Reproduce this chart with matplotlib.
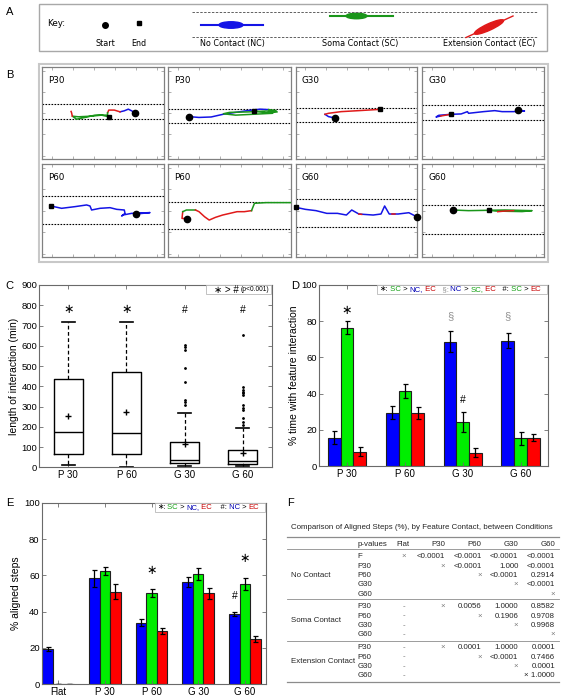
import matplotlib.pyplot as plt
from matplotlib.patches import Rectangle, Ellipse
import numpy as np

plt.rcParams['font.family'] = ['Liberation Sans', 'DejaVu Sans']

W, H = 563, 699

# ---------------- data ----------------
# B: example tracks (x, y in % of the frame), one list of (contact, xs, ys) segments per panel
b_titles = ['P30', 'P30', 'G30', 'G30', 'P60', 'P60', 'G60', 'G60']
b_dash = [[59.6, 43.3], [55.1, 39.1], [55.8, 40.2], [59.1, 42.4],
          [65.7, 35.4], [59.7, 29.9], [62.2, 32.4], [55.8, 25.5]]
b_start = [(76, 50.5), (16.9, 46.4), (32.5, 44.9), (78.8, 53.6),
           (76.8, 46.4), (15.4, 41.4), (100, 43.5), (25.2, 50.7)]
b_end = [(54.6, 46.2), (69.8, 52.5), (69.9, 54.3), (23.3, 48.9),
         (7.1, 55), None, (0, 53.6), (55.2, 50.4)]

track_p30a = [
    ('NC', [76, 73.2, 70.5, 67.2, 63.7], [50.5, 52.7, 54.5, 52.7, 51.6]),
    ('EC', [63.7, 59, 54.5, 53.5], [51.6, 53.5, 53.5, 50.5]),
    ('SC', [53.5, 53.5, 43.2, 35, 28.1, 24.6, 29.5, 40.4, 48.6, 54.6],
           [50.5, 48, 48, 45.5, 43.6, 46.9, 46.2, 46.9, 48, 46.2]),
    ('EC', [24.6, 24, 23.6], [46.9, 50.5, 52]),
]
track_p30b = [
    ('NC', [16.9, 25, 35, 45, 55, 65, 75, 82], [46.4, 45.5, 46, 49, 51, 53, 54.5, 54]),
    ('SC', [82, 88, 85, 70, 55, 45, 50, 65, 80, 89, 80, 69.8],
           [54, 53, 50, 49, 48, 49.5, 51, 51.5, 52.5, 51.5, 50.5, 52.5]),
]
track_g30a = [
    ('NC', [32.5, 27.1, 24.2], [44.9, 46.4, 48.9]),
    ('EC', [24.2, 27.1, 37.5, 52.2, 61.1, 69.9], [48.9, 50, 51.8, 52.9, 53.6, 54.3]),
]
track_g30b = [
    ('NC', [78.8, 84, 74.8, 65.6, 59.5, 50.3, 38, 37.1, 31.9, 23.3, 13.5, 11.3, 15],
           [53.6, 52.5, 51.8, 51.8, 52.9, 51.8, 50, 51.8, 49.3, 48.9, 47.8, 46, 47]),
    ('EC', [15, 23.3], [47, 48.9]),
]
track_p60a = [
    ('NC', [76.8, 88.3, 73.2, 66.4, 65, 67.8, 67.2, 61, 55.5, 47.3, 40.4, 39.1, 36.3, 26.8, 15.8, 7.1],
           [46.4, 47.9, 47.1, 45.4, 44.3, 47.1, 50.7, 51.4, 53.2, 52.5, 50.7, 55, 56.1, 54.3, 52.5, 55]),
]
track_p60b = [
    ('EC', [15.4, 11.2, 11.8], [41.4, 41.7, 48.9]),
    ('SC', [11.8, 14.8, 22.2], [48.9, 50.7, 50.7]),
    ('EC', [22.2, 25.1, 29.6, 33.4, 38.5, 44.4, 50.3, 56.2, 62.1, 68],
           [50.7, 48.9, 43.5, 39.9, 42.8, 45.3, 47.1, 48.9, 48.9, 50]),
    ('SC', [68, 70.4, 79.9, 100], [50, 57.9, 58.6, 58.6]),
]
track_g60a = [
    ('NC', [100, 93.5, 84.7, 77.3, 73.5, 70.5, 64, 52.2, 46.3, 41.9, 34.5, 25.7, 16.8, 8, 0],
           [43.5, 47.8, 46.4, 46.4, 55, 46.4, 45.3, 46.4, 50.7, 45.3, 47.1, 47.1, 50, 51.4, 53.6]),
    ('EC', [52.2, 54.5], [46.4, 46]),
    ('EC', [79.5, 82], [46.4, 46.4]),
]
track_g60b = [
    ('SC', [25.2, 38, 55.2, 68, 90.2, 82, 70, 60, 55.2],
           [50.7, 50, 50.4, 50.7, 50, 49, 49.3, 49.6, 50.4]),
    ('EC', [62, 68, 75], [48.9, 49.6, 50]),
]
b_tracks = [track_p30a, track_p30b, track_g30a, track_g30b,
            track_p60a, track_p60b, track_g60a, track_g60b]

# C: length of interaction (min), box plot summaries
c_groups = ['P 30', 'P 60', 'G 30', 'G 60']
c_q1 = [65, 65, 21, 16]
c_med = [175, 169, 35, 30]
c_q3 = [434, 470, 123, 87]
c_mean = [252, 272, 115, 70]
c_lo = [11, 3, 5, 5]
c_hi = [716, 716, 267, 192]
c_fliers = [[], [], [309, 322, 333, 423, 489, 580, 595, 603],
            [210, 226, 243, 281, 293, 309, 358, 366, 374, 382, 395, 653]]
c_marks = ['∗', '∗', '#', '#']

# D: % time with feature interaction
d_groups = ['P 30', 'P 60', 'G 30', 'G 60']
d_nc = [15.7, 29.5, 68.7, 69.2]
d_nc_err = [3.6, 3.6, 5.7, 4.1]
d_sc = [76.4, 41.3, 24.1, 15.3]
d_sc_err = [3.7, 3.8, 5.5, 3.7]
d_ec = [8.0, 29.5, 7.4, 15.7]
d_ec_err = [2.5, 3.3, 2.4, 2.0]

# E: % aligned steps
e_groups = ['Flat', 'P 30', 'P 60', 'G 30', 'G 60']
e_nc = [19.3, 58.3, 33.9, 56.5, 38.5]
e_nc_err = [1.1, 4.6, 2.0, 2.8, 1.1]
e_sc = [0, 62.4, 50.1, 60.6, 55.2]
e_sc_err = [0, 2.0, 2.2, 3.3, 3.1]
e_ec = [0, 51.0, 29.5, 50.1, 25.0]
e_ec_err = [0, 4.2, 1.7, 3.1, 1.8]

# F: p-value table
f_title = 'Comparison of Aligned Steps (%), by Feature Contact, between Conditions'
f_header = ['p-values', 'Flat', 'P30', 'P60', 'G30', 'G60']
f_blocks = ['No Contact', 'Soma Contact', 'Extension Contact']
f_nc_rows = ['F', 'P30', 'P60', 'G30', 'G60']
f_nc_vals = [['×', '<0.0001', '<0.0001', '<0.0001', '<0.0001'],
             ['', '×', '<0.0001', '1.000', '<0.0001'],
             ['', '', '×', '<0.0001', '0.2914'],
             ['', '', '', '×', '<0.0001'],
             ['', '', '', '', '×']]
f_sc_rows = ['P30', 'P60', 'G30', 'G60']
f_sc_vals = [['-', '×', '0.0056', '1.0000', '0.8582'],
             ['-', '', '×', '0.1906', '0.9708'],
             ['-', '', '', '×', '0.9968'],
             ['-', '', '', '', '×']]
f_ec_rows = ['P30', 'P60', 'G30', 'G60']
f_ec_vals = [['-', '×', '0.0001', '1.0000', '0.0001'],
             ['-', '', '×', '<0.0001', '0.7466'],
             ['-', '', '', '×', '0.0001'],
             ['-', '', '', '', '× 1.0000']]

# ---------------- style ----------------
TRACE = {'NC': '#1414e6', 'SC': '#1a961a', 'EC': '#e01a1a'}
BAR = {'NC': '#0000ff', 'SC': '#00ee00', 'EC': '#ff0000'}
TXT = {'NC': '#0000b4', 'SC': '#14a014', 'EC': '#c80000', 'k': 'k', 'g': '#909090'}
DJ = 'DejaVu Sans'

fig = plt.figure(figsize=(W / 100, H / 100), dpi=100)


def px_ax(x0, y0, x1, y1):
    return fig.add_axes([x0 / W, 1 - y1 / H, (x1 - x0) / W, (y1 - y0) / H])


ov = px_ax(0, 0, W, H)
ov.set_xlim(0, W)
ov.set_ylim(H, 0)
ov.axis('off')

# panel letters
for lab, (lx, ly) in zip('ABCDEF', [(6, 12), (6, 75), (5, 286), (291, 286), (6, 503), (287, 503)]):
    ov.text(lx, ly, lab, fontsize=8, va='center', ha='left')

# ---------------- A: key ----------------
ov.add_patch(Rectangle((39, 3.5), 508, 47.5, fill=False, ec='#a8a8a8', lw=1))
ov.text(47, 24, 'Key:', fontsize=6.3, family=DJ, va='center')
ov.plot(105, 24.5, 'o', color='k', ms=4)
ov.plot(139, 22.5, 's', color='k', ms=3.2)
for s, x in [('Start', 105), ('End', 139), ('No Contact (NC)', 232),
             ('Soma Contact (SC)', 360.5), ('Extension Contact (EC)', 488.7)]:
    ov.text(x, 43.5, s, fontsize=5.8, family=DJ, ha='center', va='center')
for yy in (12, 37):
    ov.plot([192, 537], [yy, yy], color='#606060', lw=0.7, ls=(0, (2.5, 1.5)))
ov.plot([201, 263], [25, 25], color=TRACE['NC'], lw=1.5)
ov.add_patch(Ellipse((231, 25), 24, 6.5, color=TRACE['NC']))
ov.plot([330, 393], [16, 16], color=TRACE['SC'], lw=1.5)
ov.add_patch(Ellipse((356.5, 16), 21, 5.5, color=TRACE['SC']))
ov.plot([466, 513], [37.5, 16], color=TRACE['EC'], lw=1)
ov.add_patch(Ellipse((489, 27), 32, 6.5, angle=-24.6, color=TRACE['EC']))

# ---------------- B: tracks ----------------
ov.add_patch(Rectangle((38.7, 63.5), 509.6, 198.5, fill=False, ec='#c8c8c8', lw=1.5))
b_x = [(42.3, 164.3), (168.3, 290.7), (295.7, 416.7), (422.3, 544)]
b_y = [(67.3, 159.3), (164, 257.3)]
for i in range(8):
    x0, x1 = b_x[i % 4]
    y0, y1 = b_y[i // 4]
    ax = px_ax(x0, y0, x1, y1)
    ax.set_xlim(0, 100)
    ax.set_ylim(0, 100)
    for yy in b_dash[i]:
        ax.axhline(yy, color='k', lw=0.8, ls=(0, (1.5, 1.2)))
    for kind, xs, ys in b_tracks[i]:
        ax.plot(xs, ys, color=TRACE[kind], lw=1.1, solid_joinstyle='round')
    ax.plot(*b_start[i], 'o', color='k', ms=4.5, clip_on=False, zorder=5)
    if b_end[i] is not None:
        ax.plot(*b_end[i], 's', color='k', ms=3.5, clip_on=False, zorder=5)
    ax.text(0.05, 0.855, b_titles[i], transform=ax.transAxes, fontsize=6.3, family=DJ, va='center')
    ax.set_xticks([7.7, 24.9, 42, 59.6, 76.5, 93.7])
    ax.set_yticks([4, 27, 50, 73, 96])
    ax.tick_params(direction='in', length=2, width=0.5, color='#909090',
                   top=True, right=True, labelbottom=False, labelleft=False)
    for s in ax.spines.values():
        s.set_color('#808080')
        s.set_linewidth(0.9)


def style(ax):
    for s in ax.spines.values():
        s.set_color('#6a6a6a')
        s.set_linewidth(0.8)
    ax.tick_params(direction='in', length=3, width=0.6, color='#6a6a6a',
                   top=True, right=True, labelsize=7, pad=2)
    ax.tick_params(axis='y', labelsize=6.8, pad=1.5)


def legend_box(ax, x0):
    ax.add_patch(Rectangle((x0, 0.948), 0.995 - x0, 0.05, transform=ax.transAxes,
                           fc='white', ec='#b8b8b8', lw=0.6, zorder=5, clip_on=False))


def chain_text(ax, x, y, pieces, size):
    t = ax.text(x, y, pieces[0][0], color=TXT[pieces[0][1]], fontsize=size,
                transform=ax.transAxes, va='center', ha='left', zorder=6)
    for s, c in pieces[1:]:
        t = ax.annotate(s, xy=(1, 0.5), xycoords=t, color=TXT[c], fontsize=size,
                        va='center', ha='left', zorder=6)
    return t


# ---------------- C: box plot ----------------
axc = px_ax(39.3, 285, 271.7, 467.3)
stats = []
for i in range(4):
    stats.append(dict(q1=c_q1[i], med=c_med[i], q3=c_q3[i], mean=c_mean[i],
                      whislo=c_lo[i], whishi=c_hi[i], fliers=c_fliers[i]))
axc.bxp(stats, positions=[1, 2, 3, 4], widths=0.5, capwidths=0.22, showmeans=True,
        boxprops=dict(color='k', lw=1),
        medianprops=dict(color='k', lw=1),
        whiskerprops=dict(color='k', lw=0.9, ls=(0, (3, 2))),
        capprops=dict(color='k', lw=1.2),
        meanprops=dict(marker='+', mec='k', ms=5, mew=1),
        flierprops=dict(marker='.', mfc='k', mec='k', ms=2))
axc.set_xlim(0.5, 4.5)
axc.set_ylim(0, 900)
axc.set_yticks(range(0, 901, 100))
axc.set_xticks([1, 2, 3, 4], c_groups)
axc.set_ylabel('length of interaction (min)', fontsize=7.5, labelpad=2)
for i, m in enumerate(c_marks):
    axc.text(i + 1, 775, m, ha='center', va='center', fontsize=9 if m == '∗' else 7.5)
style(axc)
legend_box(axc, 0.716)
tp = axc.text(0.99, 0.973, '(p<0.001)', transform=axc.transAxes, fontsize=4.8,
              ha='right', va='center', zorder=6)
axc.annotate('∗ > #', xy=(0, 0.5), xycoords=tp, xytext=(-1.5, 0), textcoords='offset points',
             fontsize=7, ha='right', va='center', zorder=6)

# ---------------- D: bars ----------------
axd = px_ax(319.3, 285, 548.3, 466)
xd = np.arange(1, 5)
wd = 0.22
ekw = dict(lw=0.9, capthick=0.9, ecolor='k')
axd.bar(xd - wd, d_nc, wd, yerr=d_nc_err, color=BAR['NC'], edgecolor='#202020', lw=0.8, capsize=1.8, error_kw=ekw)
axd.bar(xd, d_sc, wd, yerr=d_sc_err, color=BAR['SC'], edgecolor='#202020', lw=0.8, capsize=1.8, error_kw=ekw)
axd.bar(xd + wd, d_ec, wd, yerr=d_ec_err, color=BAR['EC'], edgecolor='#202020', lw=0.8, capsize=1.8, error_kw=ekw)
axd.set_xlim(0.52, 4.48)
axd.set_ylim(0, 100)
axd.set_yticks(range(0, 101, 20))
axd.set_xticks(xd, d_groups)
axd.set_ylabel('% time with feature interaction', fontsize=7.5, labelpad=2)
axd.text(1, 85.5, '∗', ha='center', va='center', fontsize=9)
axd.text(3 - wd, 83, '§', ha='center', va='center', fontsize=8, color='#909090')
axd.text(4 - wd, 83, '§', ha='center', va='center', fontsize=8, color='#909090')
axd.text(3, 36.5, '#', ha='center', va='center', fontsize=7.5)
style(axd)
legend_box(axd, 0.253)
chain_text(axd, 0.262, 0.973,
           [('∗:', 'k'), (' SC', 'SC'), (' > ', 'k'), ('NC,', 'NC'), (' EC', 'EC'),
            ('   §:', 'g'), (' NC', 'NC'), (' > ', 'k'), ('SC,', 'SC'), (' EC', 'EC'),
            ('   #:', 'k'), (' SC', 'SC'), (' > ', 'k'), ('EC', 'EC')], 5.6)

# ---------------- E: bars ----------------
axe = px_ax(41.7, 502.7, 266, 684.3)
xe = np.arange(1, 6)
we = 0.225
axe.bar(xe - we, e_nc, we, yerr=e_nc_err, color=BAR['NC'], edgecolor='#202020', lw=0.8, capsize=1.8, error_kw=ekw)
axe.bar(xe, e_sc, we, yerr=e_sc_err, color=BAR['SC'], edgecolor='#202020', lw=0.8, capsize=1.8, error_kw=ekw)
axe.bar(xe + we, e_ec, we, yerr=e_ec_err, color=BAR['EC'], edgecolor='#202020', lw=0.8, capsize=1.8, error_kw=ekw)
axe.set_xlim(0.65, 5.45)
axe.set_ylim(0, 100)
axe.set_yticks(range(0, 101, 20))
axe.set_xticks(xe, e_groups)
axe.set_ylabel('% aligned steps', fontsize=7.5, labelpad=2)
axe.text(3, 62.5, '∗', ha='center', va='center', fontsize=9)
axe.text(5, 69, '∗', ha='center', va='center', fontsize=9)
axe.text(5 - we, 48.5, '#', ha='center', va='center', fontsize=7.5)
style(axe)
legend_box(axe, 0.505)
chain_text(axe, 0.512, 0.973,
           [('∗:', 'k'), (' SC', 'SC'), (' > ', 'k'), ('NC,', 'NC'), (' EC', 'EC'),
            ('    #:', 'k'), (' NC', 'NC'), (' > ', 'k'), ('EC', 'EC')], 5.5)

# ---------------- F: table ----------------
fs = 5.7
tc = '#262626'
gc = '#7a7a7a'
ov.text(421.7, 527.7, f_title, fontsize=fs, ha='center', va='center', color=tc)
for yy, lw in [(536.7, 0.9), (549.3, 0.6), (599.3, 0.6), (641, 0.6), (681.7, 0.9)]:
    ov.plot([287, 559], [yy, yy], color='#8c8c8c', lw=lw)
col_right = [445, 481.7, 518.3, 555]
ov.text(357.3, 544, f_header[0], fontsize=fs, ha='left', va='center', color=tc)
ov.text(403, 544, f_header[1], fontsize=fs, ha='center', va='center', color=tc)
for h, xr in zip(f_header[2:], col_right):
    ov.text(xr, 544, h, fontsize=fs, ha='right', va='center', color=tc)

blocks = [(f_nc_rows, f_nc_vals, 556.7), (f_sc_rows, f_sc_vals, 606.7), (f_ec_rows, f_ec_vals, 647.7)]
for name, (rows, vals, y0) in zip(f_blocks, blocks):
    step = 9.33
    ymid = y0 + step * (len(rows) - 1) / 2
    ov.text(291, ymid, name, fontsize=fs, ha='left', va='center', color=tc)
    for r, (rl, rv) in enumerate(zip(rows, vals)):
        yy = y0 + r * step
        ov.text(357.3, yy, rl, fontsize=fs, ha='left', va='center', color=tc)
        if rv[0]:
            ov.text(404, yy, rv[0], fontsize=fs, ha='center', va='center',
                    color=gc if rv[0] in ('×', '-') else tc)
        for v, xr in zip(rv[1:], col_right):
            if v:
                ov.text(xr, yy, v, fontsize=fs, ha='right', va='center',
                        color=gc if v == '×' else tc)

fig.savefig('out.png', dpi=100)
